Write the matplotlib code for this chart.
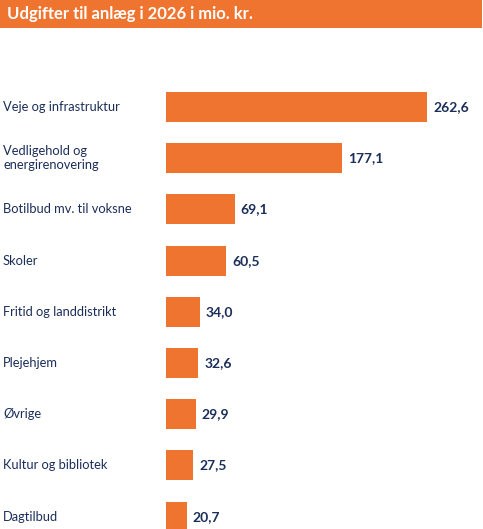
import matplotlib.pyplot as plt
import matplotlib.transforms as mtransforms
from matplotlib.patches import Rectangle

categories = ["Veje og infrastruktur", "Vedligehold og\nenergirenovering",
              "Botilbud mv. til voksne", "Skoler", "Fritid og landdistrikt",
              "Plejehjem", "Øvrige", "Kultur og bibliotek", "Dagtilbud"]
values = [262.6, 177.1, 69.1, 60.5, 34.0, 32.6, 29.9, 27.5, 20.7]
value_labels = ["262,6", "177,1", "69,1", "60,5", "34,0", "32,6", "29,9", "27,5", "20,7"]
title = "Udgifter til anlæg i 2026 i mio. kr."

orange = "#EF7430"
navy = "#1B2E5A"

plt.rcParams['font.family'] = ['Lato', 'DejaVu Sans']

W, H = 483, 529
fig = plt.figure(figsize=(W / 100, H / 100), dpi=100)

# orange title bar
fig.patches.append(Rectangle((0, 1 - 28 / H), 482 / W, 28 / H, transform=fig.transFigure,
                             facecolor=orange, edgecolor='none'))
fig.text(7 / W, 1 - 14 / H, title, color='white', fontsize=12, fontweight='bold',
         va='center', ha='left')

# axes placed in pixels, last bar runs off the bottom like the original
left, width = 166, 300
top, bottom = 107 - 25.6, 516.6 + 25.6
ax = fig.add_axes([left / W, 1 - bottom / H, width / W, (bottom - top) / H])
ax.set_xlim(0, width / 0.994)
ax.set_ylim(len(values) - 0.5, -0.5)
ax.axis('off')

y = list(range(len(values)))
ax.barh(y, values, height=0.586, color=orange)

trans = mtransforms.blended_transform_factory(fig.transFigure, ax.transData)
for yi, v, lab, cat in zip(y, values, value_labels, categories):
    ax.text(v + 6, yi, lab, color=navy, fontsize=10, fontweight='bold',
            va='center', ha='left')
    ax.text(3 / W, yi, cat, transform=trans, color=navy, fontsize=9.3,
            va='center', ha='left', linespacing=1.25, clip_on=False)

fig.savefig("out.png", dpi=100)
